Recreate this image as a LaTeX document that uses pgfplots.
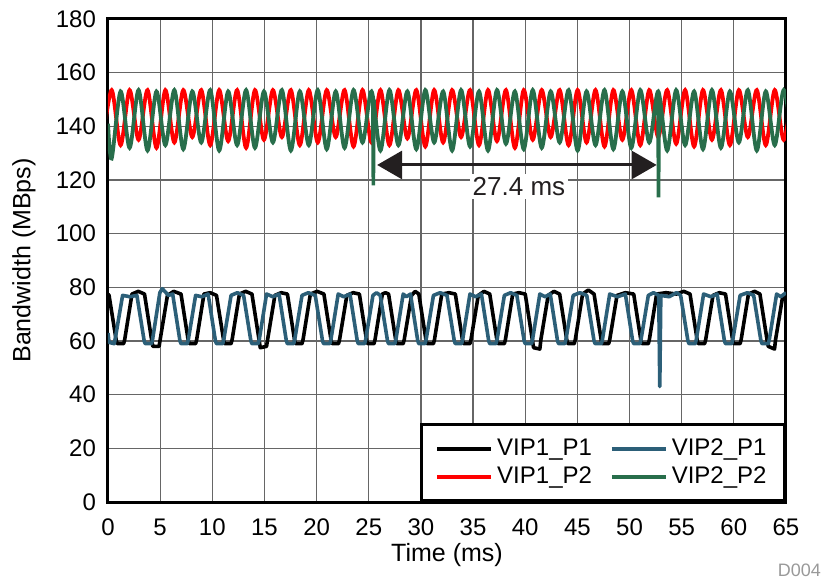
\documentclass[border=0pt]{standalone}
\usepackage{pgfplots}
\pgfplotsset{compat=1.18}
\usepackage{fontspec}
\setmainfont{Liberation Sans}
\usetikzlibrary{arrows.meta}
\definecolor{vipblue}{HTML}{2C5F78}
\definecolor{vipgreen}{HTML}{286E4B}
\definecolor{arrowc}{HTML}{231F20}
\begin{document}
\begin{tikzpicture}
\path[use as bounding box] (-54pt,-38pt) rectangle (360.5pt,251pt);
\begin{axis}[
  scale only axis,
  width=339pt, height=241.5pt,
  xmin=0, xmax=65, ymin=0, ymax=180,
  xtick={0,5,...,65}, ytick={0,20,...,180},
  grid=major,
  major grid style={draw=black!60, line width=0.6pt},
  axis line style={line width=1.5pt},
  major tick length=0pt,
  tick label style={font=\fontsize{12}{14}\selectfont},
  xticklabel style={yshift=-5pt},
  yticklabel style={xshift=-2.5pt},
  /pgf/number format/assume math mode=true,
  xlabel={Time (ms)}, ylabel={Bandwidth (MBps)},
  every axis x label/.style={at={(axis description cs:0.5,-0.11)}, anchor=center, font=\fontsize{12.5}{14}\selectfont},
  every axis y label/.style={at={(axis description cs:-0.124,0.5)}, rotate=90, anchor=center, font=\fontsize{12.5}{14}\selectfont},
  legend columns=2,
  legend cell align=left,
  legend image code/.code={\draw[#1] (0pt,0pt) -- (24pt,0pt); \path (24pt,0pt) -- (27pt,0pt);},
  legend style={at={(1,0)}, anchor=south east, draw=black, line width=1.5pt, fill=white,
    font=\fontsize{12}{14}\selectfont, inner xsep=7pt, inner ysep=5pt,
    /tikz/every even column/.append style={column sep=7pt}},
]
% VIP1_P1 (black)
\addplot[black, line width=1.8pt, line join=round] coordinates {
(0,77.5) (0.1,77) (0.8,60) (0.9,59) (1.5,59) (1.6,60.5) (2.3,77.5) (2.9,78.5)
(3.5,77.5) (4.2,60) (4.3,58) (4.9,58) (5.0,60.5) (5.7,77) (6.3,78.5)
(7.0,77.5) (7.7,60) (7.8,59) (8.4,59) (8.5,60.5) (9.2,77.5) (9.8,78)
(10.4,77) (11.1,60) (11.2,59) (11.8,59) (11.9,60.5) (12.6,77.5) (13.2,78.5)
(13.8,77.5) (14.5,60) (14.6,57.5) (15.2,58) (15.3,60.5) (16.0,77) (16.6,78)
(17.2,77.5) (17.9,60) (18.0,59) (18.6,59) (18.7,60.5) (19.4,77.5) (20.05,78.5)
(20.7,77.5) (21.4,60) (21.5,59) (22.1,59) (22.2,60.5) (22.9,77) (23.5,78)
(24.1,77.5) (24.8,60) (24.9,59) (25.5,59) (25.6,60.5) (26.3,77.5) (26.6,78)
(26.9,77.5) (27.6,60) (27.7,59) (28.3,59) (28.4,60.5) (29.1,77) (29.45,78.5)
(29.8,77.5) (30.5,60) (30.6,59) (31.2,59) (31.3,60.5) (32.0,77.5) (32.7,78)
(33.3,77.5) (34.0,60) (34.1,59) (34.7,59) (34.8,60.5) (35.5,77) (36.05,78.5)
(36.6,77.5) (37.3,60) (37.4,59) (38.0,59) (38.1,60.5) (38.8,77.5) (39.4,78)
(40.0,77.5) (40.7,60) (40.8,57.5) (41.4,57) (41.5,60.5) (42.2,77) (42.75,78.5)
(43.3,77.5) (44.0,60) (44.1,59) (44.7,59) (44.8,60.5) (45.5,77.5) (46.05,79)
(46.6,77.5) (47.3,60) (47.4,59) (48.0,59) (48.1,60.5) (48.8,77) (49.6,78)
(50.4,77.5) (51.1,60) (51.2,59) (51.8,59) (51.9,60.5) (52.6,77.5) (53.5,78) (54.5,77.5) (55.2,78.5)
(55.8,77.5) (56.5,60) (56.6,59) (57.2,59) (57.3,60.5) (58.0,77) (58.6,78)
(59.2,77.5) (59.9,60) (60.0,59) (60.6,59) (60.7,60.5) (61.4,77.5) (62.0,78.5)
(62.5,77.5) (63.2,60) (63.3,58) (63.9,57) (64.0,60.5) (64.7,77) (65,77.5)
};
\addlegendentry{VIP1\_P1}
% VIP2_P1 (blue)
\addplot[vipblue, line width=1.8pt, line join=round] coordinates {
(0,63) (0.1,59.5) (0.6,59) (0.7,61) (1.4,77) (2.1,76.5)
(2.77,77) (3.47,60) (3.57,59) (4.17,59) (4.27,60.5) (4.97,78) (5.2,79.5) (5.8,77)
(6.2,77.5) (6.9,60) (7.0,59) (7.6,59) (7.7,60.5) (8.4,77) (9.0,76.5)
(9.6,77.5) (10.3,60) (10.4,59) (11.0,59) (11.1,60.5) (11.8,77) (12.4,78)
(13.0,77) (13.7,60) (13.8,59) (14.4,59) (14.5,60.5) (15.2,77.5) (15.8,76.5)
(16.4,77.5) (17.1,60) (17.2,59) (17.8,59) (17.9,60.5) (18.6,77) (19.2,78)
(19.87,77) (20.57,60) (20.67,59) (21.27,59) (21.37,60.5) (22.07,77.5) (22.6,76.5)
(23.2,77.5) (23.9,60) (24.0,59) (24.6,59) (24.7,60.5) (25.4,77) (25.75,78)
(26.1,77) (26.8,60) (26.9,59) (27.5,59) (27.6,60.5) (28.3,77.5) (28.6,76.5)
(29.0,77.5) (29.7,60) (29.8,59) (30.4,59) (30.5,60.5) (31.2,77) (31.85,78)
(32.5,77) (33.2,60) (33.3,59) (33.9,59) (34.0,60.5) (34.7,77.5) (35.25,76.5)
(35.8,77.5) (36.5,60) (36.6,59) (37.2,59) (37.3,60.5) (38.0,77) (38.6,78)
(39.2,77) (39.9,60) (40.0,59) (40.6,59) (40.7,60.5) (41.4,77.5) (41.9,76.5)
(42.4,77.5) (43.1,60) (43.2,59) (43.8,59) (43.9,60.5) (44.6,77) (45.25,78)
(45.9,77) (46.6,60) (46.7,59) (47.3,59) (47.4,60.5) (48.1,77.5) (48.85,76.5)
(49.6,77.5) (50.3,60) (50.4,59) (51.0,59) (51.1,60.5) (51.8,77) (52.3,78)
(52.8,77) (52.9,43) (53.0,77) (53.8,76.5) (54.5,78)
(54.9,77) (55.6,60) (55.7,59) (56.3,59) (56.4,60.5) (57.1,77.5) (57.8,76.5)
(58.4,77.5) (59.1,60) (59.2,59) (59.8,59) (59.9,60.5) (60.6,77) (61.3,78)
(61.9,77) (62.6,60) (62.7,59) (63.3,59) (63.4,60.5) (64.1,77.5) (64.5,76.5) (65,78)
};
\addlegendentry{VIP2\_P1}
% VIP1_P2 (red)
\addplot[red, line width=1.9pt, smooth] coordinates {
(-0.51,134) (0.35,153.5) (1.21,133) (2.07,153.5) (2.93,135) (3.79,153.5) (4.65,132) (5.50,153.5)
(6.36,134) (7.22,153.5) (8.08,136) (8.94,153.5) (9.80,133) (10.66,153.5) (11.52,134.5) (12.38,153.5)
(13.24,132) (14.09,153.5) (14.95,135) (15.81,153.5) (16.67,136) (17.53,153.5) (18.39,133) (19.25,153.5)
(20.11,134) (20.97,153.5) (21.83,136) (22.68,153.5) (23.54,132.5) (24.40,153.5) (25.26,134) (26.12,153.5)
(26.98,133) (27.84,153.5) (28.70,135.5) (29.56,153.5) (30.42,132.5) (31.27,153.5) (32.13,134) (32.99,153.5)
(33.85,136) (34.71,153.5) (35.57,133) (36.43,153.5) (37.29,134.5) (38.15,153.5) (39.01,132) (39.86,153.5)
(40.72,135) (41.58,153.5) (42.44,136) (43.30,153.5) (44.16,133) (45.02,153.5) (45.88,134) (46.74,153.5)
(47.60,132.5) (48.45,153.5) (49.31,135) (50.17,153.5) (51.03,133) (51.89,153.5) (52.75,136) (53.61,153.5)
(54.47,133.5) (55.33,153.5) (56.19,132.5) (57.04,153.5) (57.90,135) (58.76,153.5) (59.62,133) (60.48,153.5)
(61.34,136) (62.20,153.5) (63.06,133) (63.92,153.5) (64.78,135) (65.63,153.5)
};
\addlegendentry{VIP1\_P2}
% VIP2_P2 (green)
\addplot[vipgreen, line width=1.9pt, smooth] coordinates {
(0,141) (0.35,128) (1.21,153) (2.07,132) (2.93,153.5) (3.79,131) (4.65,153) (5.50,133)
(6.36,153.5) (7.22,131.5) (8.08,153) (8.94,134) (9.80,153.5) (10.66,131) (11.52,153) (12.38,133)
(13.24,153.5) (14.09,132) (14.95,153) (15.81,134) (16.67,153.5) (17.53,131) (18.39,153) (19.25,133)
(20.11,153.5) (20.97,131.5) (21.83,153) (22.68,132) (23.54,153.5) (24.40,134) (25.26,153) (26.12,131)
(26.98,153.5) (27.84,133) (28.70,153) (29.56,131.5) (30.42,153.5) (31.27,134) (32.13,153) (32.99,131)
(33.85,153.5) (34.71,132.5) (35.57,153) (36.43,131) (37.29,153.5) (38.15,133.5) (39.01,153) (39.86,131.5)
(40.72,153.5) (41.58,132) (42.44,153) (43.30,134) (44.16,153.5) (45.02,131) (45.88,153) (46.74,133)
(47.60,153.5) (48.45,131.5) (49.31,153) (50.17,132) (51.03,153.5) (51.89,134) (52.75,153) (53.61,131)
(54.47,153.5) (55.33,133) (56.19,153) (57.04,131.5) (57.90,153.5) (58.76,132) (59.62,153) (60.48,134)
(61.34,153.5) (62.20,131) (63.06,153) (63.92,133) (64.78,153.5) (65.63,134)
};
\addlegendentry{VIP2\_P2}
% green glitches
\addplot[vipgreen, line width=1.8pt, forget plot] coordinates {(25.38,151) (25.44,118) (25.50,150)};
\addplot[vipgreen, line width=1.8pt, forget plot] coordinates {(52.72,153) (52.78,113.5) (52.84,150)};
% annotation
\draw[arrowc, line width=1.5pt, {Triangle[length=12.5pt,width=14pt]}-{Triangle[length=12.5pt,width=14pt]}]
  (axis cs:25.8,125.6) -- (axis cs:52.6,125.6);
\node[fill=white, inner sep=1.5pt, font=\fontsize{13}{15}\selectfont, text=arrowc] at (axis cs:39.4,117.6) {27.4 ms};
\end{axis}
\node[anchor=base east, font=\fontsize{9}{11}\selectfont, text=black!40] at (360pt,-37pt) {D004};
\end{tikzpicture}
\end{document}
